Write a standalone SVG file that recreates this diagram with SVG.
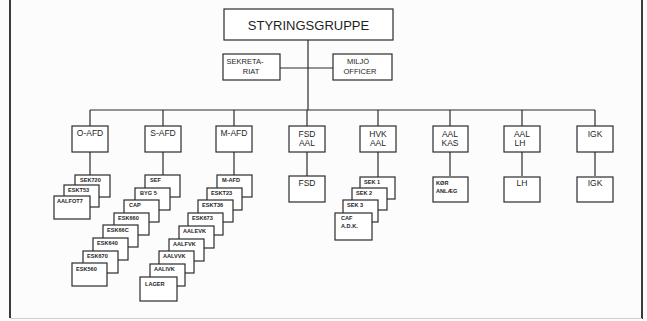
<svg xmlns="http://www.w3.org/2000/svg" width="647" height="321" viewBox="0 0 647 321">
<style>
.b{fill:#fff;stroke:#2b2b2b;stroke-width:1.2}
.l{stroke:#2b2b2b;stroke-width:1.2;fill:none}
.t{font-family:"Liberation Sans",Arial,sans-serif;fill:#1e1e1e;text-anchor:middle}
.m{font-size:8.5px}
.s{font-family:"Liberation Sans",Arial,sans-serif;fill:#1e1e1e;font-size:5.6px;font-weight:bold}
</style>
<rect width="647" height="321" fill="#fcfcfc"/>
<g id="frame">
<line x1="10" y1="0" x2="10" y2="318" stroke="#3a3a3a" stroke-width="2"/>
<line x1="642" y1="0" x2="642" y2="319" stroke="#3a3a3a" stroke-width="2"/>
<line x1="10" y1="318.5" x2="642" y2="318.5" stroke="#cfcfcf" stroke-width="1.2"/>
</g>
<g id="connectors">
<line class="l" x1="308" y1="40" x2="308" y2="110"/>
<line class="l" x1="280" y1="68" x2="333" y2="68"/>
<line class="l" x1="90" y1="110" x2="595" y2="110"/>
<line class="l" x1="90" y1="110" x2="90" y2="126"/>
<line class="l" x1="163" y1="110" x2="163" y2="126"/>
<line class="l" x1="234" y1="110" x2="234" y2="126"/>
<line class="l" x1="307" y1="110" x2="307" y2="126"/>
<line class="l" x1="378" y1="110" x2="378" y2="126"/>
<line class="l" x1="450" y1="110" x2="450" y2="126"/>
<line class="l" x1="522" y1="110" x2="522" y2="126"/>
<line class="l" x1="595" y1="110" x2="595" y2="126"/>
<line class="l" x1="90" y1="152" x2="90" y2="175"/>
<line class="l" x1="163" y1="152" x2="163" y2="175"/>
<line class="l" x1="234" y1="152" x2="234" y2="175"/>
<line class="l" x1="307" y1="152" x2="307" y2="176"/>
<line class="l" x1="378" y1="152" x2="378" y2="177"/>
<line class="l" x1="450" y1="152" x2="450" y2="176"/>
<line class="l" x1="522" y1="152" x2="522" y2="176"/>
<line class="l" x1="595" y1="152" x2="595" y2="176"/>
</g>
<g id="styringsgruppe"><rect class="b" x="224" y="9" width="169" height="31"/><text class="t" x="308.5" y="30" font-size="13">STYRINGSGRUPPE</text></g>
<g id="sekretariat"><rect class="b" x="223" y="54" width="57" height="26"/><text class="t" font-size="7.5" x="245" y="64">SEKRETA-</text><text class="t" font-size="7.5" x="251" y="74">RIAT</text></g>
<g id="miljo"><rect class="b" x="333" y="54" width="59" height="26"/><text class="t" font-size="7.5" x="358" y="64">MILJÖ</text><text class="t" font-size="7.5" x="360" y="74">OFFICER</text></g>

<g id="o-afd"><rect class="b" x="72" y="126" width="36" height="26"/><text class="t m" x="90" y="136">O-AFD</text></g>
<g id="s-afd"><rect class="b" x="145" y="126" width="36" height="26"/><text class="t m" x="163" y="136">S-AFD</text></g>
<g id="m-afd"><rect class="b" x="216" y="126" width="36" height="26"/><text class="t m" x="234" y="136">M-AFD</text></g>
<g id="fsd-aal"><rect class="b" x="289" y="126" width="36" height="26"/><text class="t m" x="307" y="137">FSD</text><text class="t m" x="307" y="146">AAL</text></g>
<g id="hvk-aal"><rect class="b" x="360" y="126" width="36" height="26"/><text class="t m" x="378" y="137">HVK</text><text class="t m" x="378" y="146">AAL</text></g>
<g id="aal-kas"><rect class="b" x="433" y="126" width="35" height="26"/><text class="t m" x="450" y="137">AAL</text><text class="t m" x="450" y="146">KAS</text></g>
<g id="aal-lh"><rect class="b" x="504" y="126" width="36" height="26"/><text class="t m" x="522" y="137">AAL</text><text class="t m" x="520" y="146">LH</text></g>
<g id="igk"><rect class="b" x="577" y="126" width="36" height="26"/><text class="t m" x="595" y="137">IGK</text></g>

<g id="fsd"><rect class="b" x="289" y="176" width="36" height="26"/><text class="t m" x="307" y="186">FSD</text></g>
<g id="kor-anlaeg"><rect class="b" x="433" y="177" width="35" height="25"/><text class="s" x="436" y="185">KØR</text><text class="s" x="436" y="193">ANLÆG</text></g>
<g id="lh"><rect class="b" x="504" y="177" width="36" height="25"/><text class="t m" x="522" y="186">LH</text></g>
<g id="igk2"><rect class="b" x="577" y="177" width="36" height="25"/><text class="t m" x="595" y="186">IGK</text></g>

<g id="o-afd-stack">
<rect class="b" x="75" y="175" width="35" height="22"/><text class="s" x="80" y="182">SEK720</text>
<rect class="b" x="64" y="185" width="35" height="22"/><text class="s" x="68" y="192">ESKT53</text>
<rect class="b" x="54" y="196" width="36" height="23"/><text class="s" x="57" y="203">AALFOT7</text>
</g>
<g id="s-afd-stack">
<rect class="b" x="145" y="175" width="35" height="22"/><text class="s" x="150" y="182">SEF</text>
<rect class="b" x="135" y="188" width="35" height="22"/><text class="s" x="140" y="195">BYG 5</text>
<rect class="b" x="124" y="200" width="35" height="22"/><text class="s" x="129" y="207">CAP</text>
<rect class="b" x="114" y="213" width="35" height="22"/><text class="s" x="118" y="220">ESK660</text>
<rect class="b" x="103" y="225" width="35" height="22"/><text class="s" x="107" y="232">ESK66C</text>
<rect class="b" x="93" y="238" width="35" height="22"/><text class="s" x="97" y="245">ESK640</text>
<rect class="b" x="83" y="251" width="35" height="22"/><text class="s" x="87" y="258">ESK670</text>
<rect class="b" x="72" y="263" width="35" height="23"/><text class="s" x="76" y="271">ESK560</text>
</g>
<g id="m-afd-stack">
<rect class="b" x="217" y="175" width="35" height="22"/><text class="s" x="222" y="182">M-AFD</text>
<rect class="b" x="207" y="188" width="35" height="22"/><text class="s" x="211" y="195">ESKT23</text>
<rect class="b" x="198" y="200" width="35" height="22"/><text class="s" x="202" y="207">ESKT36</text>
<rect class="b" x="188" y="213" width="35" height="22"/><text class="s" x="192" y="220">ESK673</text>
<rect class="b" x="179" y="226" width="35" height="22"/><text class="s" x="183" y="233">AALEVK</text>
<rect class="b" x="169" y="239" width="35" height="22"/><text class="s" x="173" y="246">AALFVK</text>
<rect class="b" x="159" y="251" width="35" height="22"/><text class="s" x="163" y="258">AALVVK</text>
<rect class="b" x="150" y="264" width="35" height="22"/><text class="s" x="154" y="271">AALIVK</text>
<rect class="b" x="140" y="277" width="37" height="24"/><text class="s" x="145" y="286">LAGER</text>
</g>
<g id="hvk-stack">
<rect class="b" x="360" y="177" width="35" height="22"/><text class="s" x="364" y="184">SEK 1</text>
<rect class="b" x="352" y="188" width="35" height="22"/><text class="s" x="356" y="195">SEK 2</text>
<rect class="b" x="343" y="200" width="35" height="22"/><text class="s" x="347" y="207">SEK 3</text>
<rect class="b" x="335" y="213" width="37" height="27"/><text class="s" x="341" y="220">CAF</text><text class="s" x="341" y="228">A.D.K.</text>
</g>
</svg>
